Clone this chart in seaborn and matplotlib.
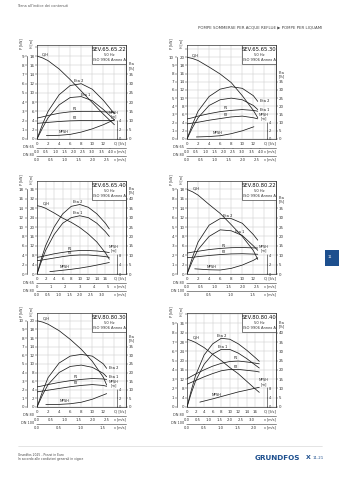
import numpy as np
import matplotlib
matplotlib.use("Agg")
import matplotlib.pyplot as plt
from matplotlib.patches import Rectangle
import seaborn as sns

# ---------------- curve data (Q in l/s, H in m, eta in %, P in kW, NPSH in m) ----------------
# SEV.65.65.22
q_6522 = [0, 1, 2, 4, 6, 8, 10, 12, 14]
h_6522 = [18.0, 17.6, 17.0, 15.2, 12.9, 10.4, 7.9, 5.4, 3.1]
eta2_6522 = [0, 8, 15, 24, 29, 30, 27, 21, 13.7]
eta1_6522 = [0, 6, 11.5, 18.5, 22.5, 23, 20.8, 16, 10.4]
p1_6522 = [2.27, 2.4, 2.55, 2.8, 2.95, 3.0, 3.0, 2.95, 2.9]
p2_6522 = [1.7, 1.75, 1.8, 1.9, 1.97, 2.0, 2.02, 2.02, 2.0]
qn_6522 = [1.7, 4, 6, 8, 10, 12, 14]
npsh_6522 = [0.75, 0.8, 1.0, 1.5, 2.2, 3.1, 4.2]

# SEV.65.65.30
q_6530 = [0, 1, 2, 4, 6, 8, 10, 12, 12.8]
h_6530 = [20.0, 19.7, 19.2, 17.6, 15.9, 13.8, 10.6, 7.0, 5.2]
eta2_6530 = [0, 9, 17, 26, 30.5, 32, 31, 26.5, 23]
eta1_6530 = [0, 7, 13, 20.5, 24, 25, 24, 20.5, 18]
p1_6530 = [2.45, 2.6, 2.8, 3.1, 3.35, 3.5, 3.6, 3.5, 3.4]
p2_6530 = [1.85, 1.95, 2.05, 2.3, 2.5, 2.7, 2.8, 2.6, 2.47]
qn_6530 = [1.7, 4, 6, 8, 10, 12.1]
npsh_6530 = [0.5, 0.6, 0.8, 1.3, 2.0, 3.0]

# SEV.65.65.40
q_6540 = [0, 1, 2, 4, 6, 8, 10, 12, 14, 16, 16.9]
h_6540 = [29.1, 28.7, 28.0, 26.0, 23.8, 22.0, 19.8, 17.0, 13.6, 9.0, 6.3]
eta2_6540 = [0, 8, 15, 25, 32, 36, 37, 35.5, 32, 27, 24]
eta1_6540 = [0, 6.5, 12.5, 21, 27, 30, 31, 30, 27, 22.5, 20]
p1_6540 = [3.55, 3.7, 3.9, 4.3, 4.6, 4.85, 5.0, 5.0, 4.9, 4.7, 4.55]
p2_6540 = [2.85, 2.95, 3.1, 3.4, 3.7, 3.95, 4.05, 4.05, 3.9, 3.7, 3.55]
qn_6540 = [3, 6, 8, 10, 12, 14, 16.9]
npsh_6540 = [1.0, 1.6, 2.0, 2.5, 3.1, 3.8, 4.9]

# SEV.80.80.22
q_8022 = [0, 1, 2, 4, 6, 8, 10, 12, 12.8]
h_8022 = [18.0, 17.5, 16.8, 14.8, 12.9, 10.5, 8.0, 5.0, 3.1]
eta2_8022 = [0, 9, 17, 26, 29.5, 29.5, 27, 21, 18]
eta1_8022 = [0, 7, 13, 20, 23.5, 23, 20.5, 15, 12.6]
p1_8022 = [2.23, 2.33, 2.42, 2.6, 2.72, 2.8, 2.82, 2.78, 2.77]
p2_8022 = [1.73, 1.78, 1.85, 1.97, 2.07, 2.14, 2.16, 2.12, 2.1]
qn_8022 = [1.4, 4, 6, 8, 10, 12, 12.8]
npsh_8022 = [1.1, 0.9, 0.85, 1.2, 1.9, 2.9, 3.45]

# SEV.80.80.30
q_8030 = [0, 1, 2, 4, 6, 8, 10, 12, 12.6]
h_8030 = [20.0, 19.7, 19.2, 17.7, 15.7, 13.4, 10.6, 6.9, 5.1]
eta2_8030 = [0, 9, 17, 25.5, 29.5, 30.5, 29.5, 25, 22.4]
eta1_8030 = [0, 7, 13, 20, 23.5, 24.3, 23, 19.5, 17.5]
p1_8030 = [2.33, 2.45, 2.6, 2.85, 3.05, 3.2, 3.3, 3.25, 3.2]
p2_8030 = [1.75, 1.85, 1.95, 2.15, 2.35, 2.5, 2.6, 2.5, 2.4]
qn_8030 = [1.6, 4, 6, 8, 10, 12.6]
npsh_8030 = [0.55, 0.6, 0.75, 1.1, 1.8, 3.1]

# SEV.80.80.40
q_8040 = [0, 1, 2, 4, 6, 8, 10, 12, 14, 16, 16.9]
h_8040 = [29.2, 28.6, 27.8, 25.6, 22.7, 20.0, 17.0, 14.3, 11.0, 7.7, 6.3]
eta2_8040 = [0, 9, 17, 28, 34, 37, 36.5, 34, 30.5, 26.5, 24.6]
eta1_8040 = [0, 7.5, 14, 23, 28.5, 31, 31, 29, 26, 22.5, 21]
p1_8040 = [3.05, 3.3, 3.55, 4.0, 4.4, 4.7, 4.9, 4.95, 4.85, 4.72, 4.65]
p2_8040 = [2.45, 2.65, 2.85, 3.25, 3.6, 3.9, 4.05, 4.05, 3.95, 3.85, 3.77]
qn_8040 = [3, 6, 8, 10, 12, 14, 16.9]
npsh_8040 = [2.1, 3.5, 4.5, 5.5, 6.5, 7.3, 8.5]

# pipe cross sections in l/s per m/s
AREA = {"DN 65": np.pi * 0.0325 ** 2 * 1000,
        "DN 80": np.pi * 0.040 ** 2 * 1000,
        "DN 100": np.pi * 0.050 ** 2 * 1000}

LBL_STD = lambda qh, e2, e1, p, n: [
    ("Q-H", "h", qh, 2, 0.3, "left", "bottom"),
    ("Eta 2", "eta2", e2, 0, 0.6, "center", "bottom"),
    ("Eta 1", "eta1", e1, 0, 0.6, "center", "bottom"),
    ("P1", "p1", p, 0, 0.5, "center", "bottom"),
    ("P2", "p2", p, 0, 0.5, "center", "bottom"),
    ("NPSH", "npsh", n, 0, 0.6, "center", "bottom"),
]
LBL_END = lambda qh, p, n: [
    ("Q-H", "h", qh, 2, 0.3, "left", "bottom"),
    ("Eta 2", "eta2", None, 1.5, 0, "left", "center"),
    ("Eta 1", "eta1", None, 1.5, 0, "left", "center"),
    ("P1", "p1", p, 0, 0.5, "center", "bottom"),
    ("P2", "p2", p, 0, 0.5, "center", "bottom"),
    ("NPSH", "npsh", n, 0, 0.6, "center", "bottom"),
]

charts = [
    dict(model="SEV.65.65.22", box=(37, 45, 126, 139),
         data=(q_6522, h_6522, eta2_6522, eta1_6522, p1_6522, p2_6522, qn_6522, npsh_6522),
         ytop=20.4, hstep=2, hmax=18, pk=2, ek=2.5, emax=35, xtop=16.1, qlab=12,
         dn=[("DN 65", np.arange(0, 4.01, 0.5), "{:.1f}"), ("DN 80", np.arange(0, 2.51, 0.5), "{:.1f}")],
         labels=LBL_STD(0.4, 7.5, 8.8, 6.8, 4.8)),
    dict(model="SEV.65.65.30", box=(187, 45, 276, 139),
         data=(q_6530, h_6530, eta2_6530, eta1_6530, p1_6530, p2_6530, qn_6530, npsh_6530),
         ytop=23.0, hstep=2, hmax=20, pk=2, ek=2.5, emax=35, xtop=16.1, qlab=12,
         dn=[("DN 65", np.arange(0, 4.01, 0.5), "{:.1f}"), ("DN 80", np.arange(0, 2.51, 0.5), "{:.1f}")],
         labels=LBL_END(0.4, 7.0, 5.5)),
    dict(model="SEV.65.65.40", box=(37, 181, 126, 274),
         data=(q_6540, h_6540, eta2_6540, eta1_6540, p1_6540, p2_6540, qn_6540, npsh_6540),
         ytop=39.6, hstep=4, hmax=36, pk=2, ek=1.25, emax=40, xtop=20.8, qlab=16,
         dn=[("DN 65", np.arange(0, 5.01, 1.0), "{:.0f}"), ("DN 80", np.arange(0, 3.01, 0.5), "{:.1f}")],
         labels=LBL_STD(0.6, 9.6, 9.6, 7.7, 6.5)),
    dict(model="SEV.80.80.22", box=(187, 181, 276, 274),
         data=(q_8022, h_8022, eta2_8022, eta1_8022, p1_8022, p2_8022, qn_8022, npsh_8022),
         ytop=19.8, hstep=2, hmax=18, pk=2, ek=2.5, emax=35, xtop=16.1, qlab=12,
         dn=[("DN 80", np.arange(0, 2.51, 0.5), "{:.1f}"), ("DN 100", np.arange(0, 1.51, 0.5), "{:.1f}")],
         labels=LBL_STD(0.5, 7.3, 9.6, 6.6, 4.5)),
    dict(model="SEV.80.80.30", box=(37, 313, 126, 407),
         data=(q_8030, h_8030, eta2_8030, eta1_8030, p1_8030, p2_8030, qn_8030, npsh_8030),
         ytop=21.8, hstep=2, hmax=20, pk=2, ek=2.5, emax=35, xtop=16.1, qlab=12,
         dn=[("DN 80", np.arange(0, 2.51, 0.5), "{:.1f}"), ("DN 100", np.arange(0, 1.51, 0.5), "{:.1f}")],
         labels=LBL_END(0.5, 7.0, 5.0)),
    dict(model="SEV.80.80.40", box=(187, 313, 276, 407),
         data=(q_8040, h_8040, eta2_8040, eta1_8040, p1_8040, p2_8040, qn_8040, npsh_8040),
         ytop=40.5, hstep=4, hmax=36, pk=4, ek=1.25, emax=40, xtop=20.8, qlab=16,
         dn=[("DN 80", np.arange(0, 3.01, 0.5), "{:.1f}"), ("DN 100", np.arange(0, 2.01, 0.5), "{:.1f}")],
         labels=LBL_STD(0.6, 8.2, 8.3, 11.5, 7.0)),
]

# ---------------- styling ----------------
sns.set_theme(style="white")
plt.rcParams["font.family"] = ["DejaVu Sans"]
plt.rcParams.update({"font.size": 3, "xtick.labelsize": 2.9, "ytick.labelsize": 2.9,
                     "axes.linewidth": 0.45})

W, H = 339, 480
INK = "#333333"
GRID = "#c9c9c9"
CURVE = "#1c1c1c"
LW = 0.55
SMALL = 2.6
BLUE = "#1d4f8e"

fig = plt.figure(figsize=(W / 100, H / 100), dpi=100)
fig.patch.set_facecolor("white")


def only_spine(a, side):
    for name, s in a.spines.items():
        s.set_visible(name == side)
        s.set_color(INK)
        s.set_linewidth(0.45)


def draw_chart(c):
    x0, y0, x1, y1 = c["box"]
    wpx, hpx = x1 - x0, y1 - y0
    ax = fig.add_axes([x0 / W, 1 - y1 / H, wpx / W, hpx / H])
    q, h, eta2, eta1, p1, p2, qn, npsh = c["data"]
    ytop, hstep = c["ytop"], c["hstep"]

    # head axis, with the grid
    sns.lineplot(x=q, y=h, ax=ax, color=CURVE, lw=LW)
    ax.set_xlim(0, c["xtop"])
    ax.set_ylim(0, ytop)
    xt = np.arange(0, c["xtop"], 2)
    ax.set_xticks(xt)
    ax.set_xticklabels([f"{v:g}" if v <= c["qlab"] else "" for v in xt])
    yt = np.arange(0, ytop, hstep)
    ax.set_yticks(yt)
    ax.set_yticklabels([f"{v:g}" if v <= c["hmax"] else "" for v in yt])
    ax.grid(True, color=GRID, lw=0.35)
    ax.set_axisbelow(True)
    ax.tick_params(length=1.2, width=0.35, pad=0.8, colors=INK)
    ax.set_xlabel("")
    ax.set_ylabel("")
    for s in ax.spines.values():
        s.set_color(INK)
        s.set_linewidth(0.5)

    # power axis, outside on the left
    axp = ax.twinx()
    sns.lineplot(x=q, y=p1, ax=axp, color=CURVE, lw=LW)
    sns.lineplot(x=q, y=p2, ax=axp, color=CURVE, lw=LW)
    axp.set_ylim(0, ytop / c["pk"])
    pt = np.arange(0, c["hmax"] / c["pk"] + 1e-9, hstep / c["pk"])
    axp.set_yticks(pt)
    axp.set_yticklabels([f"{v:g}" for v in pt])
    only_spine(axp, "left")
    axp.spines["left"].set_position(("axes", -10.5 / wpx))
    axp.spines["left"].set_bounds(0, pt[-1])
    axp.yaxis.set_ticks_position("left")
    axp.tick_params(length=1.2, width=0.35, pad=0.6, colors=INK)
    axp.set_ylabel("")

    # efficiency axis on the right
    axe = ax.twinx()
    sns.lineplot(x=q, y=eta2, ax=axe, color=CURVE, lw=LW)
    sns.lineplot(x=q, y=eta1, ax=axe, color=CURVE, lw=LW)
    axe.set_ylim(0, ytop * c["ek"])
    et = np.arange(0, c["emax"] + 1, 5)
    axe.set_yticks(et)
    axe.set_yticklabels([f"{v:g}" for v in et])
    only_spine(axe, "right")
    axe.tick_params(length=1.2, width=0.35, pad=0.8, colors=INK)
    axe.set_ylabel("")

    # NPSH axis inside the plot
    axn = ax.twinx()
    sns.lineplot(x=qn, y=npsh, ax=axn, color=CURVE, lw=LW)
    axn.set_ylim(0, ytop)
    nt = [0, hstep, 2 * hstep]
    axn.set_yticks(nt)
    axn.set_yticklabels([f"{v:g}" for v in nt])
    only_spine(axn, "right")
    axn.spines["right"].set_position(("axes", 0.895))
    axn.spines["right"].set_bounds(0, nt[-1])
    axn.tick_params(length=1.0, width=0.35, pad=0.5, colors=INK, labelsize=2.6)
    axn.set_ylabel("")
    axn.text(0.865, 2 * hstep + 0.25 * hstep, "NPSH\n[m]", transform=axn.get_yaxis_transform(),
             ha="center", va="bottom", fontsize=SMALL, color=INK, linespacing=0.9)

    # curve labels
    series = {"h": (ax, q, h), "eta2": (axe, q, eta2), "eta1": (axe, q, eta1),
              "p1": (axp, q, p1), "p2": (axp, q, p2), "npsh": (axn, qn, npsh)}
    for text, key, qa, dx, dy, ha, va in c["labels"]:
        a, xs, ys = series[key]
        qa = xs[-1] if qa is None else qa
        a.annotate(text, (qa, np.interp(qa, xs, ys)), xytext=(dx, dy),
                   textcoords="offset points", ha=ha, va=va, fontsize=SMALL, color=CURVE)

    # axis captions
    ax.annotate("P [kW]", xy=(0, 1), xycoords="axes fraction", xytext=(-15.5, 1.5),
                textcoords="offset pixels", rotation=90, ha="center", va="center",
                fontsize=2.3, color=INK)
    ax.annotate("H [m]", xy=(0, 1), xycoords="axes fraction", xytext=(-5.5, 1.5),
                textcoords="offset pixels", rotation=90, ha="center", va="center",
                fontsize=2.3, color=INK)
    axe.annotate("Eta\n[%]", xy=(1, c["emax"] + 4.5), xycoords=axe.get_yaxis_transform(),
                 xytext=(2.5, 0), textcoords="offset pixels", ha="left", va="center",
                 fontsize=SMALL, color=INK, linespacing=0.9)
    ax.annotate("Q [l/s]", xy=(1, 0), xycoords="axes fraction", xytext=(0, -2.8),
                textcoords="offset pixels", ha="right", va="top", fontsize=2.8, color=INK)

    # velocity scales for the discharge pipes
    for i, (name, vt, fmt) in enumerate(c["dn"]):
        area = AREA[name]
        loc = -(8.5 + 8.0 * i) / hpx
        sec = ax.secondary_xaxis(loc, functions=(lambda x, a=area: np.asarray(x) / a,
                                                 lambda v, a=area: np.asarray(v) * a))
        sec.set_xticks(vt)
        sec.set_xticklabels([fmt.format(v) for v in vt])
        sec.tick_params(length=1.0, width=0.3, pad=0.5, labelsize=2.7, colors=INK)
        for s in sec.spines.values():
            s.set_color(INK)
            s.set_linewidth(0.4)
        ax.annotate(name, xy=(0, loc), xycoords="axes fraction", xytext=(-3, 0),
                    textcoords="offset pixels", ha="right", va="center", fontsize=2.5, color=INK)
        ax.annotate("v [m/s]", xy=(1, loc), xycoords="axes fraction", xytext=(0, -2.3),
                    textcoords="offset pixels", ha="right", va="top", fontsize=2.4, color=INK)

    # model box
    bw, bh = 34.0 / wpx, 18.5 / hpx
    axn.add_patch(Rectangle((1 - bw, 1 - bh), bw, bh, transform=axn.transAxes,
                            facecolor="white", edgecolor=INK, lw=0.45, zorder=5))
    axn.text(1 - bw / 2, 1 - bh * 0.24, c["model"], transform=axn.transAxes, ha="center",
             va="center", fontsize=3.8, color="#111111", zorder=6)
    axn.text(1 - bw / 2, 1 - bh * 0.54, "50 Hz", transform=axn.transAxes, ha="center",
             va="center", fontsize=2.6, color=INK, zorder=6)
    axn.text(1 - bw / 2, 1 - bh * 0.8, "ISO 9906 Annex A", transform=axn.transAxes, ha="center",
             va="center", fontsize=2.6, color=INK, zorder=6)


for c in charts:
    draw_chart(c)

# ---------------- page furniture ----------------
fig.text(17 / W, 1 - 6 / H, "Torna all'indice dei contenuti", fontsize=2.5, color="#555555",
         ha="left", va="center")
fig.text(322 / W, 1 - 27.5 / H, "POMPE SOMMERSE PER ACQUE REFLUE \u25B6 POMPE PER LIQUAMI",
         fontsize=2.9, color="#444444", ha="right", va="center")

fig.add_artist(plt.Line2D([18 / W, 322 / W], [1 - 446 / H, 1 - 446 / H], color="#d0d0d0", lw=0.4))
fig.text(18 / W, 1 - 454.5 / H, "Grundfos 2025 - Prezzi in Euro", fontsize=2.2, color="#444444",
         ha="left", va="center")
fig.text(18 / W, 1 - 459 / H, "In accordo alle condizioni generali in vigore", fontsize=2.2,
         color="#444444", ha="left", va="center")
fig.text(255 / W, 1 - 458 / H, "GRUNDFOS", fontsize=5.2, fontweight="bold", color=BLUE,
         ha="left", va="center")
fig.text(306 / W, 1 - 457.5 / H, "X", fontsize=4.5, fontweight="bold", color=BLUE,
         ha="left", va="center")
fig.text(313 / W, 1 - 458 / H, "11.21", fontsize=2.8, color=BLUE, ha="left", va="center")

fig.add_artist(Rectangle((325 / W, 1 - 266 / H), 14 / W, 16 / H, transform=fig.transFigure,
                         facecolor=BLUE, edgecolor="none"))
fig.text(327.5 / W, 1 - 257 / H, "11", fontsize=2.6, color="white", ha="left", va="center")

fig.savefig("out.png", dpi=100, facecolor="white")
